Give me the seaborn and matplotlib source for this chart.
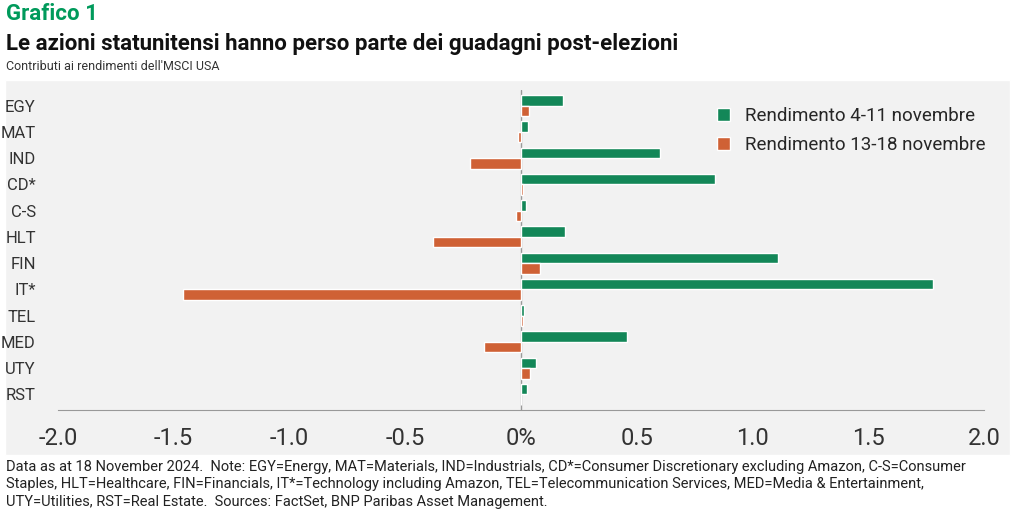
import matplotlib
matplotlib.use("Agg")
import matplotlib.pyplot as plt
import seaborn as sns
import pandas as pd
from matplotlib.patches import Rectangle

# Dati
settori = ['EGY', 'MAT', 'IND', 'CD*', 'C-S', 'HLT', 'FIN', 'IT*', 'TEL', 'MED', 'UTY', 'RST']
rend_4_11 = [0.18, 0.03, 0.60, 0.84, 0.02, 0.19, 1.11, 1.78, 0.015, 0.46, 0.065, 0.025]
rend_13_18 = [0.035, -0.012, -0.22, 0.01, -0.02, -0.38, 0.08, -1.46, 0.01, -0.16, 0.04, 0.0]
serie = ['Rendimento 4-11 novembre', 'Rendimento 13-18 novembre']
tick_vals = [-2.0, -1.5, -1.0, -0.5, 0.0, 0.5, 1.0, 1.5, 2.0]
tick_labels = ['-2.0', '-1.5', '-1.0', '-0.5', '0%', '0.5', '1.0', '1.5', '2.0']

df = pd.DataFrame({
    'settore': settori * 2,
    'valore': rend_4_11 + rend_13_18,
    'serie': [serie[0]] * len(settori) + [serie[1]] * len(settori),
})

sns.set_style('white')
plt.rcParams['font.family'] = ['Roboto', 'DejaVu Sans']

fig = plt.figure(figsize=(10.12, 5.21), dpi=100)
fig.patches.append(Rectangle((5 / 1012, 1 - 455 / 521), 1005 / 1012, 375 / 521,
                             transform=fig.transFigure, facecolor='#f2f2f2', zorder=-10))
ax = fig.add_axes([58 / 1012, 1 - 410 / 521, 926 / 1012, 320 / 521])
ax.set_zorder(5)
ax.set_facecolor('none')

sns.barplot(data=df, x='valore', y='settore', hue='serie', orient='h',
            palette=['#009a5b', '#e8561c'], width=0.8, ax=ax, zorder=3)

ax.set_xlim(-2, 2)
ax.set_ylim(11.6, -0.6)
ax.axvline(0, color='#999999', lw=1, zorder=2)
ax.set_xticks(tick_vals)
ax.set_xticklabels(tick_labels, fontsize=17, color='#333333')
ax.tick_params(axis='x', direction='out', length=8, color='#999999', pad=4)
ax.tick_params(axis='y', length=0, labelsize=12, colors='#333333', pad=16)
ax.set_xlabel('')
ax.set_ylabel('')
for s in ['top', 'right', 'left']:
    ax.spines[s].set_visible(False)
ax.spines['bottom'].set_color('#999999')

leg = ax.legend(loc='upper right', bbox_to_anchor=(1.02, 1.0), frameon=False,
                fontsize=13.5, handlelength=0.7, handleheight=0.7, labelspacing=0.6)

fig.text(6 / 1012, 1 - 14 / 521, 'Grafico 1', fontsize=16, fontweight='bold',
         color='#009a5b', va='center')
fig.text(6 / 1012, 1 - 44 / 521, 'Le azioni statunitensi hanno perso parte dei guadagni post-elezioni',
         fontsize=16, fontweight='bold', color='#111111', va='center')
fig.text(6 / 1012, 1 - 67 / 521, "Contributi ai rendimenti dell'MSCI USA",
         fontsize=9, color='#333333', va='center')
nota = ("Data as at 18 November 2024.  Note: EGY=Energy, MAT=Materials, IND=Industrials, CD*=Consumer Discretionary excluding Amazon, C-S=Consumer\n"
        "Staples, HLT=Healthcare, FIN=Financials, IT*=Technology including Amazon, TEL=Telecommunication Services, MED=Media & Entertainment,\n"
        "UTY=Utilities, RST=Real Estate.  Sources: FactSet, BNP Paribas Asset Management.")
fig.text(6 / 1012, 1 - 460 / 521, nota, fontsize=10.5, color='#222222', va='top', linespacing=1.3)

fig.savefig('out.png', dpi=100)
